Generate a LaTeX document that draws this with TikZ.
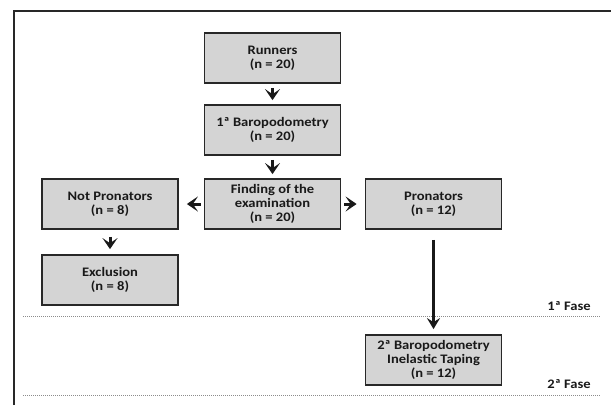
\documentclass[tikz,border=0pt]{standalone}
\usepackage{fontspec}
\newfontfamily\flowfont[FakeStretch=1.12]{Carlito}
\usepackage{xcolor}
\definecolor{fcfill}{RGB}{212,212,212}
\definecolor{fcline}{RGB}{40,40,40}
\definecolor{fctext}{RGB}{25,25,25}
\definecolor{fcdots}{RGB}{140,140,140}
\usetikzlibrary{arrows.meta,positioning}

\begin{document}
\begin{tikzpicture}[x=1pt,y=-1pt,
    fcbox/.style={draw=fcline,fill=fcfill,text=fctext,line width=1.8pt,
        minimum width=136pt,minimum height=50pt,align=center,inner sep=2pt,
        font=\flowfont\bfseries\fontsize{13}{14}\selectfont},
    fcstep/.style={-{Stealth[length=11pt,width=15pt,inset=5pt]},line width=3pt,fctext},
    fclong/.style={-{Stealth[length=11pt,width=13pt,inset=4pt]},line width=2.2pt,fctext},
    fcfase/.style={text=fctext,inner sep=0pt,anchor=base east,
        font=\flowfont\bfseries\fontsize{13}{14}\selectfont}]
  \useasboundingbox (0,0) rectangle (611,405);
  % frame
  \draw[line width=2pt,fcline] (14,405) -- (14,11) -- (611,11);
  % boxes
  \node[fcbox] (runners) at (272.5,58) {Runners\\(n = 20)};
  \node[fcbox] (baro1) at (272.5,130) {1ª Baropodometry\\(n = 20)};
  \node[fcbox] (finding) at (272.5,204) {Finding of the\\examination\\(n = 20)};
  \node[fcbox] (notpron) at (110,204) {Not Pronators\\(n = 8)};
  \node[fcbox] (pron) at (433.5,204) {Pronators\\(n = 12)};
  \node[fcbox] (exclusion) at (110,280) {Exclusion\\(n = 8)};
  \node[fcbox] (baro2) at (433.5,360) {2ª Baropodometry\\Inelastic Taping\\(n = 12)};
  % phases
  \draw[fcdots,line width=1pt,densely dotted] (23,316) -- (601,316);
  \draw[fcdots,line width=1pt,densely dotted] (23,395) -- (601,395);
  \node[fcfase] (fase1) at (591,310) {1ª Fase};
  \node[fcfase] (fase2) at (591,388) {2ª Fase};
  % arrows
  \draw[fcstep,shorten <=4pt,shorten >=4pt] (runners) -- (baro1);
  \draw[fcstep,shorten <=4pt,shorten >=4pt] (baro1) -- (finding);
  \draw[fcstep,shorten <=3pt,shorten >=8pt] (finding) -- (notpron);
  \draw[fcstep,shorten <=3pt,shorten >=8pt] (finding) -- (pron);
  \draw[fcstep,shorten <=7pt,shorten >=5pt] (notpron) -- (exclusion);
  \draw[fclong,shorten <=10pt,shorten >=5pt] (pron) -- (baro2);
\end{tikzpicture}
\end{document}
